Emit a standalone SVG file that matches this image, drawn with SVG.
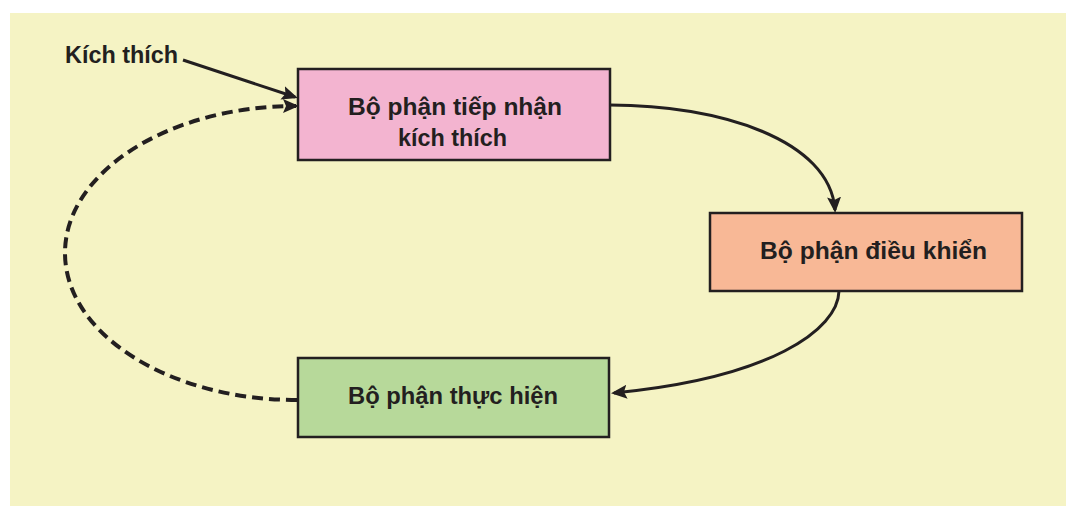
<svg xmlns="http://www.w3.org/2000/svg" width="1073" height="508" viewBox="0 0 1073 508">
<style>
.box{stroke:#231f20;stroke-width:2.5}
.t{font-family:"Liberation Sans",Arial,sans-serif;font-weight:bold;font-size:23px;fill:#231f20}
.c{fill:none;stroke:#231f20;stroke-width:3}
.d{fill:none;stroke:#231f20;stroke-width:4;stroke-dasharray:11 6}
</style>
<defs>
<marker id="ah" markerUnits="userSpaceOnUse" markerWidth="18" markerHeight="16" refX="13" refY="7" orient="auto">
<path d="M0,0 L16,7 L0,14 L3,7 z" fill="#231f20"/>
</marker>
</defs>
<rect x="0" y="0" width="1073" height="508" fill="#ffffff"/>
<rect x="10" y="13" width="1056" height="493" fill="#f5f3c4"/>
<g id="connectors">
<path class="c" d="M183 60 L295 97" marker-end="url(#ah)"/>
<path class="d" d="M297 400 C169 400 65 334 65 253 C65 172 169 106 296 106" marker-end="url(#ah)"/>
<path class="c" d="M610 105 C720 105 830 140 835 210" marker-end="url(#ah)"/>
<path class="c" d="M839 291 C838 330 770 378 614 393" marker-end="url(#ah)"/>
</g>
<g id="stimulus">
<text class="t" x="65" y="63" textLength="113" lengthAdjust="spacingAndGlyphs">Kích thích</text>
</g>
<g id="receptor">
<rect class="box" x="298" y="69" width="312" height="91" fill="#f3b4d0"/>
<text class="t" x="348" y="115" textLength="214" lengthAdjust="spacingAndGlyphs">Bộ phận tiếp nhận</text>
<text class="t" x="398" y="146" textLength="109" lengthAdjust="spacingAndGlyphs">kích thích</text>
</g>
<g id="controller">
<rect class="box" x="710" y="213" width="312" height="78" fill="#f8b896"/>
<text class="t" x="760" y="259" textLength="227" lengthAdjust="spacingAndGlyphs">Bộ phận điều khiển</text>
</g>
<g id="effector">
<rect class="box" x="298" y="358" width="311" height="79" fill="#b7d99a"/>
<text class="t" x="348" y="404" textLength="210" lengthAdjust="spacingAndGlyphs">Bộ phận thực hiện</text>
</g>
</svg>
